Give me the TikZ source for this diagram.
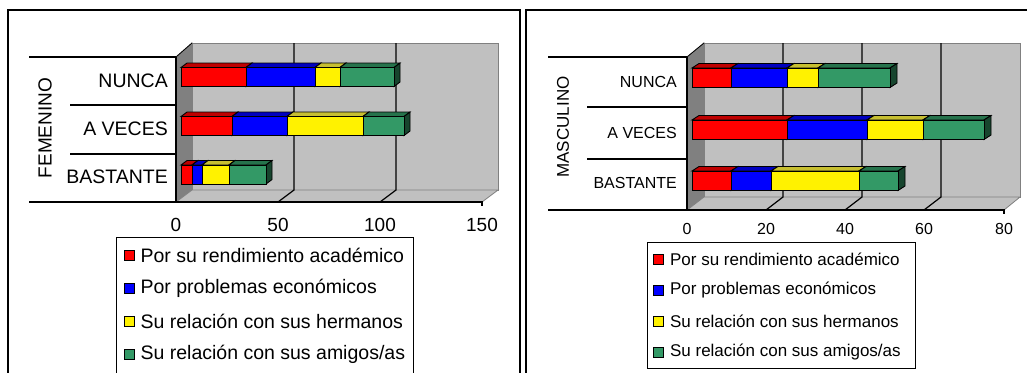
\documentclass[tikz,border=0pt]{standalone}
\usepackage{fontspec}
\setmainfont{Liberation Sans}
\usetikzlibrary{positioning}
\definecolor{wallgray}{RGB}{192,192,192}
\definecolor{sidegray}{RGB}{128,128,128}
\definecolor{seagreen}{RGB}{51,153,102}
\tikzset{
  frame/.style = {draw=black, line width=1.3pt},
  wall/.style = {fill=wallgray, draw=sidegray, line width=0.8pt},
  sidewall/.style = {fill=sidegray, draw=sidegray, line width=0.8pt},
  axisline/.style = {black, line width=1.1pt},
  gridline/.style = {black, line width=1.2pt},
  barfront/.style = {fill=#1, draw=black, line width=0.9pt},
  bartop/.style = {fill=#1!75!black, draw=black, line width=0.9pt},
  barside/.style = {fill=#1!45!black, draw=black, line width=0.9pt},
  legbox/.style = {draw=black, line width=1pt},
  legkey/.style = {draw=black, line width=0.8pt, minimum size=10pt, inner sep=0pt},
  legtext/.style = {anchor=west, inner sep=0pt}
}
\begin{document}
\begin{tikzpicture}[
      x = 1pt, y = -1pt,
      catleft/.style = {anchor=east, font=\fontsize{19.5}{19.5}\selectfont, inner sep=0pt},
      catright/.style = {anchor=east, font=\fontsize{16}{16}\selectfont, inner sep=0pt},
      tickleft/.style = {font=\fontsize{19}{19}\selectfont, inner sep=0pt},
      tickright/.style = {font=\fontsize{16}{16}\selectfont, inner sep=0pt}
      ]
      \useasboundingbox[fill=white] (0,0) rectangle (1027,372);
      \draw[frame] (8,10) rectangle (520,390);
      \draw[frame] (526,10) rectangle (1040,390);

      % FEMENINO
      \filldraw[wall] (192,43) rectangle (498,190);
      \filldraw[sidewall] (176,57) -- (192,43) -- (192,190) -- (176,202) -- cycle;
      \filldraw[wall] (176,202) -- (192,190) -- (498,190) -- (482,202) -- cycle;
      \draw[black, line width=0.8pt] (176,57) -- (192,43);
      \foreach \gx in {294,396}
        \draw[gridline] (\gx,43) -- (\gx,190) -- (\gx-16,202);
      \draw[axisline] (176,57) -- (176,202);
      \draw[axisline] (29,202) -- (482,202) -- (482,206);
      \draw[axisline] (29,57) -- (176,57);
      \draw[axisline] (70,105) -- (176,105);
      \draw[axisline] (70,154) -- (176,154);
      \foreach \yt/\segs in {
          67.5/{181/246/red,246/315/blue,315/340/yellow,340/394/seagreen},
          116.5/{181/232/red,232/287/blue,287/363/yellow,363/404/seagreen},
          165/{181/192/red,192/202/blue,202/229/yellow,229/266/seagreen}}
        \foreach \xa/\xb/\c in \segs {
          \filldraw[bartop=\c] (\xa,\yt) -- ++(6,-4.5) -- (\xb+6,\yt-4.5) -- (\xb,\yt) -- cycle;
          \filldraw[barside=\c] (\xb,\yt) -- ++(6,-4.5) -- ++(0,19) -- (\xb,\yt+19) -- cycle;
          \filldraw[barfront=\c] (\xa,\yt) rectangle (\xb,\yt+19);
        }
      \node[rotate=90, font=\fontsize{19}{19}\selectfont] (femenino) at (45,128) {FEMENINO};
      \node[catleft] (fnunca) at (168,81) {NUNCA};
      \node[catleft] (faveces) at (168,129) {A VECES};
      \node[catleft] (fbastante) at (168,177) {BASTANTE};
      \node[tickleft] (ft0) at (176,225) {0};
      \node[tickleft] (ft50) at (278,225) {50};
      \node[tickleft] (ft100) at (380,225) {100};
      \node[tickleft] (ft150) at (482,225) {150};
      \draw[legbox] (116,237) rectangle (413,380);
      \node[legkey, fill=red] (fkey1) at (129,255) {};
      \node[legkey, fill=blue] (fkey2) at (129,288) {};
      \node[legkey, fill=yellow] (fkey3) at (129,321) {};
      \node[legkey, fill=seagreen] (fkey4) at (129,354) {};
      \begin{scope}[every node/.style={legtext, font=\fontsize{19.5}{19.5}\selectfont}]
        \node[right=6pt of fkey1] (fleg1) {Por su rendimiento académico};
        \node[right=6pt of fkey2] (fleg2) {Por problemas económicos};
        \node[right=6pt of fkey3] (fleg3) {Su relación con sus hermanos};
        \node[right=6pt of fkey4] (fleg4) {Su relación con sus amigos/as};
      \end{scope}

      % MASCULINO
      \filldraw[wall] (704,43) rectangle (1020,197);
      \filldraw[sidewall] (687,57) -- (704,43) -- (704,197) -- (687,210) -- cycle;
      \filldraw[wall] (687,210) -- (704,197) -- (1020,197) -- (1004,210) -- cycle;
      \draw[black, line width=0.8pt] (687,57) -- (704,43);
      \foreach \gx in {783,862,941}
        \draw[gridline] (\gx,43) -- (\gx,197) -- (\gx-17,210);
      \draw[axisline] (687,57) -- (687,210);
      \draw[axisline] (548,210) -- (1004,210) -- (1004,214);
      \draw[axisline] (548,57) -- (687,57);
      \draw[axisline] (587,107) -- (687,107);
      \draw[axisline] (587,159) -- (687,159);
      \foreach \yt/\segs in {
          68/{692/731/red,731/787/blue,787/818/yellow,818/890/seagreen},
          120/{692/787/red,787/867/blue,867/923/yellow,923/984/seagreen},
          171/{692/731/red,731/771/blue,771/859/yellow,859/898/seagreen}}
        \foreach \xa/\xb/\c in \segs {
          \filldraw[bartop=\c] (\xa,\yt) -- ++(7,-4.5) -- (\xb+7,\yt-4.5) -- (\xb,\yt) -- cycle;
          \filldraw[barside=\c] (\xb,\yt) -- ++(7,-4.5) -- ++(0,19.5) -- (\xb,\yt+19.5) -- cycle;
          \filldraw[barfront=\c] (\xa,\yt) rectangle (\xb,\yt+19.5);
        }
      \node[rotate=90, font=\fontsize{17}{17}\selectfont] (masculino) at (563,127) {MASCULINO};
      \node[catright] (mnunca) at (677,82) {NUNCA};
      \node[catright] (maveces) at (677,133) {A VECES};
      \node[catright] (mbastante) at (677,183) {BASTANTE};
      \node[tickright] (mt0) at (687,229) {0};
      \node[tickright] (mt20) at (766,229) {20};
      \node[tickright] (mt40) at (845,229) {40};
      \node[tickright] (mt60) at (924,229) {60};
      \node[tickright] (mt80) at (1004,229) {80};
      \draw[legbox] (647,242) rectangle (915,368);
      \node[legkey, fill=red] (mkey1) at (658.5,259) {};
      \node[legkey, fill=blue] (mkey2) at (658.5,290) {};
      \node[legkey, fill=yellow] (mkey3) at (658.5,321) {};
      \node[legkey, fill=seagreen] (mkey4) at (658.5,352) {};
      \begin{scope}[every node/.style={legtext, font=\fontsize{17}{17}\selectfont}]
        \node[right=6pt of mkey1] (mleg1) {Por su rendimiento académico};
        \node[right=6pt of mkey2] (mleg2) {Por problemas económicos};
        \node[right=6pt of mkey3] (mleg3) {Su relación con sus hermanos};
        \node[right=6pt of mkey4] (mleg4) {Su relación con sus amigos/as};
      \end{scope}
    \end{tikzpicture}
\end{document}
